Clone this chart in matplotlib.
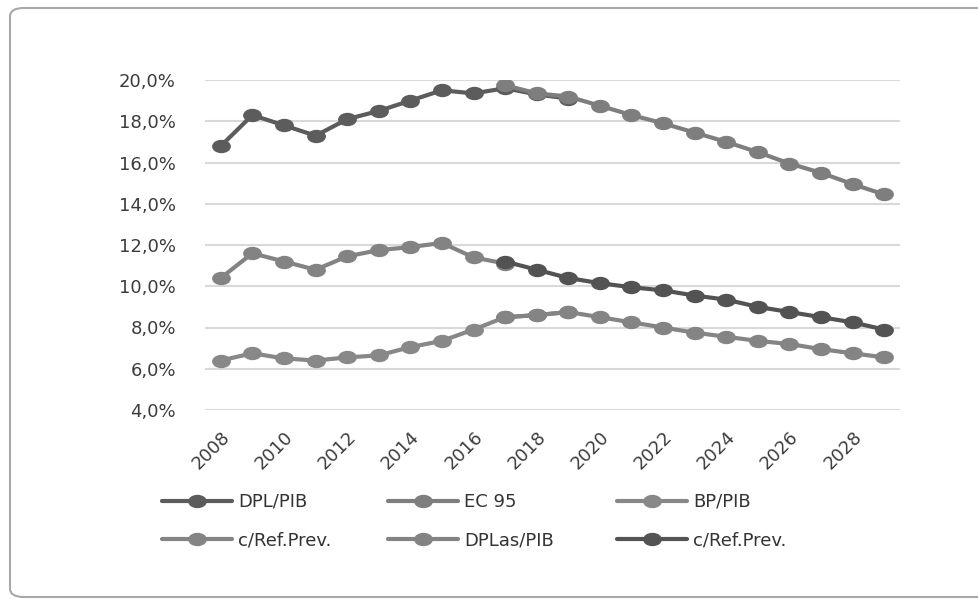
import numpy as np
import matplotlib.pyplot as plt
from matplotlib.patches import FancyBboxPatch
from matplotlib.path import Path
from matplotlib.transforms import Affine2D

plt.rcParams['font.family'] = ['DejaVu Sans']

hist_years = list(range(2008, 2020))
mid_hist_years = list(range(2008, 2018))
proj_years = list(range(2017, 2030))

dpl_pib = [16.8, 18.3, 17.8, 17.3, 18.1, 18.5, 19.0, 19.5, 19.35, 19.6, 19.3, 19.1]
ec95 = [19.75, 19.35, 19.2, 18.75, 18.3, 17.9, 17.45, 17.0, 16.5, 15.95, 15.5, 14.95, 14.45]
bp_pib = [6.4, 6.75, 6.5, 6.4, 6.55, 6.65, 7.05, 7.35, 7.9, 8.5, 8.6, 8.75]
ref_prev_bp = [8.5, 8.6, 8.75, 8.5, 8.25, 8.0, 7.75, 7.55, 7.35, 7.2, 6.95, 6.75, 6.55]
dplas_pib = [10.4, 11.6, 11.2, 10.8, 11.45, 11.75, 11.9, 12.1, 11.4, 11.1]
ref_prev_dplas = [11.2, 10.8, 10.4, 10.15, 9.95, 9.8, 9.55, 9.35, 9.0, 8.75, 8.5, 8.25, 7.9]

yticks = [4, 6, 8, 10, 12, 14, 16, 18, 20]
xticks = list(range(2008, 2029, 2))

series = [
    (hist_years, dpl_pib, "DPL/PIB", "#5c5c5c"),
    (proj_years, ec95, "EC 95", "#7e7e7e"),
    (hist_years, bp_pib, "BP/PIB", "#888888"),
    (proj_years, ref_prev_bp, "c/Ref.Prev.", "#848484"),
    (mid_hist_years, dplas_pib, "DPLas/PIB", "#838383"),
    (proj_years, ref_prev_dplas, "c/Ref.Prev.", "#535353"),
]

# the source chart is stretched sideways, so markers are wide ellipses
ell = Path.unit_circle().transformed(Affine2D().scale(1.45, 1.0))

fig = plt.figure(figsize=(9.79, 5.99), dpi=100)
border = FancyBboxPatch((10 / 979, 1 - 597 / 599), 1.3, (597 - 8) / 599,
                        boxstyle="round,pad=0,rounding_size=0.014",
                        transform=fig.transFigure, facecolor="none", edgecolor="#a8a8a8", lw=1.5)
fig.patches.append(border)
ax = fig.add_axes([205 / 979, 1 - 410 / 599, 695 / 979, 330 / 599])
ax.set_facecolor("none")

handles = []
for xs, ys, lab, col in series:
    h, = ax.plot(xs, ys, color=col, lw=3, marker=ell, ms=12.5, label=lab, solid_capstyle="round")
    handles.append(h)

ax.set_xlim(2007.5, 2029.5)
ax.set_ylim(4, 20)
ax.set_yticks(yticks)
ax.set_yticklabels([f"{v:.1f}%".replace(".", ",") for v in yticks], fontsize=13, color="#3c3c3c")
ax.set_xticks(xticks)
ax.set_xticklabels([str(y) for y in xticks], rotation=45, ha="right", rotation_mode="anchor",
                   fontsize=13, color="#3c3c3c")
ax.tick_params(axis="y", length=0, pad=21)
ax.tick_params(axis="x", length=0, pad=13)
ax.grid(axis="y", color="#d9d9d9", lw=1.5)
ax.set_axisbelow(True)
for s in ax.spines.values():
    s.set_visible(False)

# one legend per column so the columns sit where the reference has them
col_x = [162, 388, 617]
for c in range(3):
    idx = [c, c + 3]
    fig.legend([handles[i] for i in idx], [series[i][2] for i in idx],
               loc="upper left", bbox_to_anchor=(col_x[c] / 979, 1 - 493 / 599), ncol=1,
               frameon=False, fontsize=13, handlelength=3.9, handletextpad=0.3,
               labelspacing=1.15, borderpad=0, borderaxespad=0, labelcolor="#333333")

fig.savefig("out.png", dpi=100)
